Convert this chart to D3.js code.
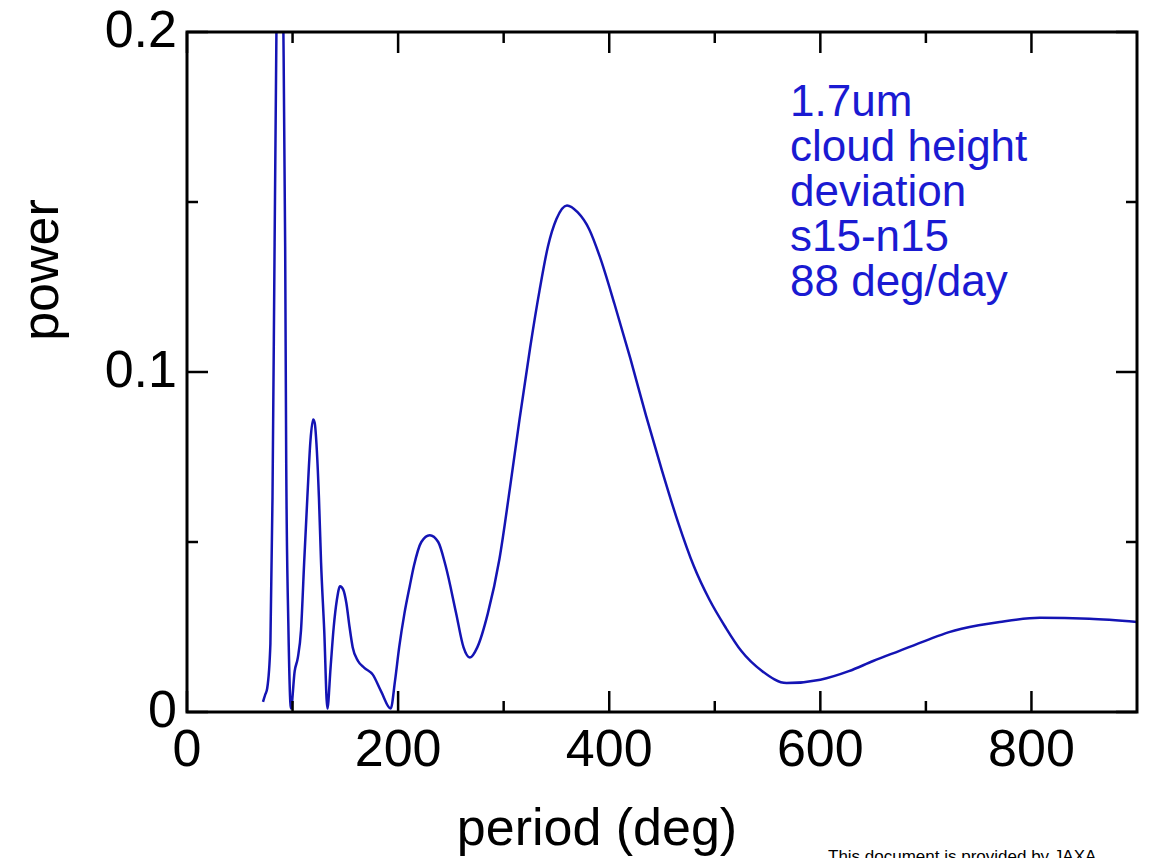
<!DOCTYPE html>
<html>
<head>
<meta charset="utf-8">
<script src="https://cdn.jsdelivr.net/npm/d3@7"></script>
<style>
  body { margin: 0; background: #fff; }
  svg { display: block; }
</style>
</head>
<body>
<div id="chart"></div>
<script>
// period (deg) vs power
const periodDeg = [72, 74, 76, 79, 81, 83, 85, 88, 91, 93, 94, 96, 98.5,
  102, 105, 108, 111, 114, 117, 119.5, 121, 123, 125, 127, 130, 133,
  136, 139, 142, 145, 148, 151, 154, 157, 162, 168, 176, 184, 193,
  197, 201, 206, 211, 215, 222, 230, 238, 245, 255, 262, 268, 275,
  285, 296, 306, 315, 325, 334, 342, 350, 360, 370, 381, 391, 405,
  420, 435, 450, 465, 480, 495, 510, 525, 545, 568, 600, 627, 650,
  675, 700, 722, 750, 770, 808, 855, 900];
const power = [0.003, 0.005, 0.007, 0.02, 0.063, 0.138, 0.21, 0.30, 0.21, 0.137, 0.073, 0.026, 0.001,
  0.012, 0.016, 0.024, 0.044, 0.063, 0.080, 0.086, 0.085, 0.077, 0.063, 0.044, 0.024, 0.001,
  0.013, 0.025, 0.033, 0.037, 0.036, 0.032, 0.025, 0.019, 0.015, 0.013, 0.011, 0.006, 0.001,
  0.009, 0.019, 0.029, 0.037, 0.043, 0.050, 0.052, 0.050, 0.043, 0.029, 0.019, 0.016, 0.019,
  0.029, 0.045, 0.066, 0.086, 0.107, 0.124, 0.137, 0.145, 0.149, 0.147, 0.142, 0.134, 0.120,
  0.104, 0.087, 0.071, 0.056, 0.043, 0.033, 0.025, 0.018, 0.012, 0.0085, 0.0095, 0.012, 0.015,
  0.018, 0.021, 0.0235, 0.0255, 0.0265, 0.0277, 0.0274, 0.0265];

const xMajor = [0, 200, 400, 600, 800];
const xMinor = [100, 300, 500, 700];
const yMajor = [0, 0.1, 0.2];
const yMinor = [0.05, 0.15];
const note = ["1.7um", "cloud height", "deviation", "s15-n15", "88 deg/day"];

const W = 1150, H = 858;
const margin = {top: 32, right: 13, bottom: 146, left: 187};
const visWidth = W - margin.left - margin.right;
const visHeight = H - margin.top - margin.bottom;
const font = "'Liberation Sans', Arial, sans-serif";

const svg = d3.select("#chart").append("svg").attr("width", W).attr("height", H);
const g = svg.append("g").attr("transform", `translate(${margin.left}, ${margin.top})`);

const x = d3.scaleLinear().domain([0, 900]).range([0, visWidth]);
const y = d3.scaleLinear().domain([0, 0.2]).range([visHeight, 0]);

svg.append("defs").append("clipPath").attr("id", "plotclip")
  .append("rect").attr("width", visWidth).attr("height", visHeight);

// curve
const data = periodDeg.map((d, i) => ({p: d, v: power[i]}));
g.append("path")
  .datum(data)
  .attr("clip-path", "url(#plotclip)")
  .attr("fill", "none")
  .attr("stroke", "#1414b4")
  .attr("stroke-width", 2.5)
  .attr("stroke-linejoin", "round")
  .attr("d", d3.line().x(d => x(d.p)).y(d => y(d.v)).curve(d3.curveMonotoneX));

// ticks pointing inward on all four sides
const longT = 21, shortT = 11;
function xTicks(vals, len) {
  g.selectAll(null).data(vals).enter().append("line")
    .attr("x1", d => x(d)).attr("x2", d => x(d))
    .attr("y1", visHeight).attr("y2", visHeight - len)
    .attr("stroke", "#000").attr("stroke-width", 2.5);
  g.selectAll(null).data(vals).enter().append("line")
    .attr("x1", d => x(d)).attr("x2", d => x(d))
    .attr("y1", 0).attr("y2", len)
    .attr("stroke", "#000").attr("stroke-width", 2.5);
}
function yTicks(vals, len) {
  g.selectAll(null).data(vals).enter().append("line")
    .attr("x1", 0).attr("x2", len)
    .attr("y1", d => y(d)).attr("y2", d => y(d))
    .attr("stroke", "#000").attr("stroke-width", 2.5);
  g.selectAll(null).data(vals).enter().append("line")
    .attr("x1", visWidth).attr("x2", visWidth - len)
    .attr("y1", d => y(d)).attr("y2", d => y(d))
    .attr("stroke", "#000").attr("stroke-width", 2.5);
}
xTicks(xMajor, longT);
xTicks(xMinor, shortT);
yTicks(yMajor, longT);
yTicks(yMinor, shortT);

// frame
g.append("rect")
  .attr("width", visWidth).attr("height", visHeight)
  .attr("fill", "none").attr("stroke", "#000").attr("stroke-width", 3);

// tick labels
g.selectAll(null).data(xMajor).enter().append("text")
  .attr("x", d => x(d)).attr("y", visHeight + 54)
  .attr("text-anchor", "middle")
  .attr("font-family", font).attr("font-size", "52px")
  .text(d => d);

g.selectAll(null).data(yMajor).enter().append("text")
  .attr("x", -10).attr("y", d => y(d) + 15)
  .attr("text-anchor", "end")
  .attr("font-family", font).attr("font-size", "52px")
  .text(d => d);

// axis titles
svg.append("text")
  .attr("x", 597).attr("y", 845)
  .attr("text-anchor", "middle")
  .attr("font-family", font).attr("font-size", "52px")
  .text("period (deg)");

svg.append("text")
  .attr("transform", "translate(58, 270) rotate(-90)")
  .attr("text-anchor", "middle")
  .attr("font-family", font).attr("font-size", "52px")
  .text("power");

// annotation
g.append("text")
  .attr("font-family", font).attr("font-size", "44px")
  .attr("fill", "#1a1ad2")
  .selectAll("tspan").data(note).enter().append("tspan")
  .attr("x", 790 - margin.left)
  .attr("y", (d, i) => 116 - margin.top + i * 45)
  .text(d => d);

// footer note
svg.append("text")
  .attr("x", 828).attr("y", 862)
  .attr("font-family", font).attr("font-size", "17px")
  .text("This document is provided by  JAXA.");
</script>
</body>
</html>
